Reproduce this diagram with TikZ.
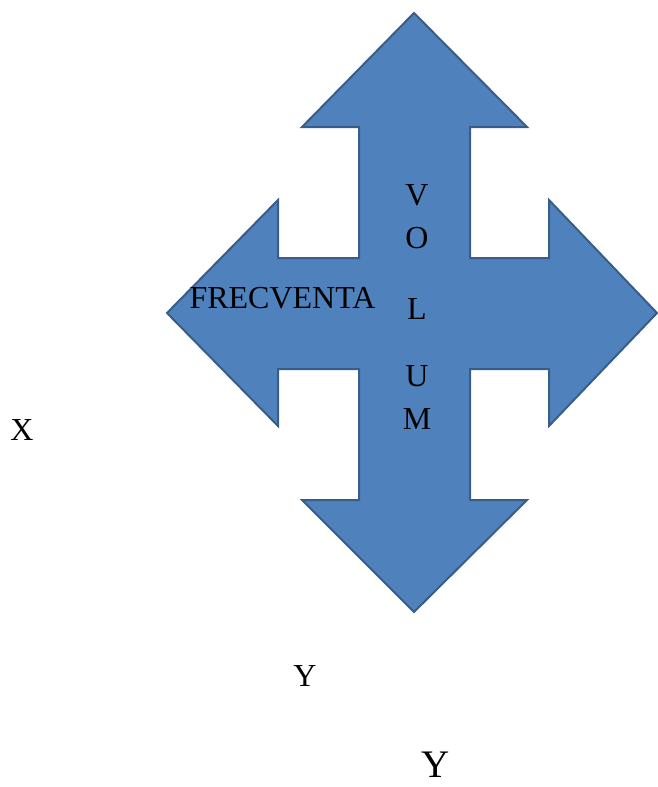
\documentclass[tikz,border=0pt]{standalone}
\usepackage{fontspec}
\setmainfont{Liberation Serif}
\definecolor{crossblue}{HTML}{4F81BD}
\definecolor{crossedge}{HTML}{385D8A}

\begin{document}
\begin{tikzpicture}[
        x=1bp, y=-1bp,
        cross/.style = {
                fill=crossblue,
                draw=crossedge,
                line width=2bp,
                line join=miter,
            },
        word/.style = {
                font=\fontsize{32bp}{38bp}\selectfont,
                inner sep=0pt,
            },
        bigword/.style = {
                word,
                font=\fontsize{39bp}{46bp}\selectfont,
            },
    ]
    \useasboundingbox (0,0) rectangle (658,787);
    \draw[cross]
    (414,13) -- (527,127) -- (470,127) -- (470,258) -- (549,258) -- (549,200)
    -- (657,313) -- (549,426) -- (549,369) -- (470,369) -- (470,500)
    -- (527,500) -- (414,612) -- (302,500) -- (359,500) -- (359,369)
    -- (278,369) -- (278,426) -- (167,313) -- (278,200) -- (278,258)
    -- (359,258) -- (359,127) -- (302,127) -- cycle;
    \node[word] (frec) at (282.5,298.5) {FRECVENTA};
    \foreach \l/\y [count=\j] in {
            V/195,
            O/238,
            L/309,
            U/376,
            M/419
        }
    \node[word] (vol-\j) at (417,\y) {\l};
    \node[word] (x) at (22,430) {X};
    \node[word] (y) at (305,676) {Y};
    \node[bigword] (ybig) at (436,765) {Y};
\end{tikzpicture}
\end{document}
